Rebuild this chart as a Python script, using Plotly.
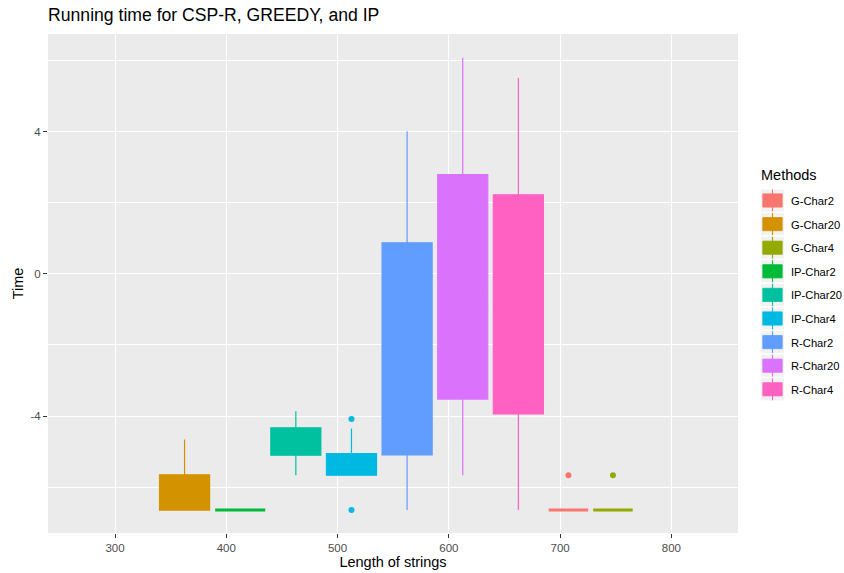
import plotly.graph_objects as go

# ---- data ----
methods = ["G-Char2", "G-Char20", "G-Char4", "IP-Char2", "IP-Char20",
           "IP-Char4", "R-Char2", "R-Char20", "R-Char4"]
lengths = [707.5, 362.5, 747.5, 412.5, 462.5, 512.5, 562.5, 612.5, 662.5]
lower_whisker = [-6.64, -6.64, -6.64, -6.64, -5.66, -5.66, -6.64, -5.66, -6.64]
q1_vals = [-6.64, -6.64, -6.64, -6.64, -5.10, -5.66, -5.09, -3.52, -3.94]
median_vals = [-6.64, -6.30, -6.64, -6.64, -4.70, -5.35, -2.00, -0.50, -1.00]
q3_vals = [-6.64, -5.65, -6.64, -6.64, -4.33, -5.05, 0.87, 2.79, 2.22]
upper_whisker = [-6.64, -4.66, -6.64, -6.64, -3.86, -4.35, 4.01, 6.07, 5.50]
outliers = {
    "G-Char2": [-5.66],
    "G-Char4": [-5.66],
    "IP-Char4": [-4.08, -6.64],
}
x_ticks = [300, 400, 500, 600, 700, 800]
y_ticks = [-4, 0, 4]
y_tick_labels = ["-4", "0", "4"]

# ---- styles ----
colors = ["#F8766D", "#D39200", "#93AA00", "#00BA38", "#00C19F",
          "#00B9E3", "#619CFF", "#DB72FB", "#FF61C3"]
narrow = {"G-Char2", "G-Char4"}
flat = {"G-Char2", "G-Char4", "IP-Char2"}
FONT = "Liberation Sans, Arial, Helvetica, sans-serif"

W, H = 844, 573
ML, MR, MT, MB = 48, 106, 34, 40
PW, PH = W - ML - MR, H - MT - MB


def px_x(px):
    return (px - ML) / PW


def px_y(py):
    return (H - MB - py) / PH


fig = go.Figure()
for i, m in enumerate(methods):
    c = colors[i]
    fig.add_trace(go.Box(
        x=[lengths[i]], q1=[q1_vals[i]], median=[median_vals[i]], q3=[q3_vals[i]],
        lowerfence=[lower_whisker[i]], upperfence=[upper_whisker[i]],
        name=m, width=35.5 if m in narrow else 45,
        line=dict(color=c, width=3 if m in flat else 1.2),
        fillcolor=c, marker=dict(color=c), whiskerwidth=0,
        boxpoints=False, hoverinfo="skip", showlegend=False,
    ))
    if m in outliers:
        fig.add_trace(go.Scatter(
            x=[lengths[i]] * len(outliers[m]), y=outliers[m], mode="markers",
            marker=dict(color=c, size=6), showlegend=False, hoverinfo="skip",
        ))

# ---- ggplot-style legend (keys drawn as shapes, labels as text) ----
fig.add_annotation(text="Methods", xref="paper", yref="paper", x=px_x(759.5),
                   y=px_y(175), xanchor="left", yanchor="middle", showarrow=False,
                   borderpad=0, font=dict(size=14.5, color="black", family=FONT))
ITEM0, STEP = 200.5, 23.6
for k, m in enumerate(methods):
    c = colors[k]
    cy = ITEM0 + STEP * k
    fig.add_shape(type="rect", xref="paper", yref="paper",
                  x0=px_x(761), x1=px_x(784), y0=px_y(cy - 11), y1=px_y(cy + 11),
                  fillcolor="#F2F2F2", line=dict(width=0), layer="above")
    fig.add_shape(type="line", xref="paper", yref="paper",
                  x0=px_x(772.5), x1=px_x(772.5), y0=px_y(cy - 11), y1=px_y(cy + 11),
                  line=dict(color=c, width=1.1), layer="above")
    fig.add_shape(type="rect", xref="paper", yref="paper",
                  x0=px_x(762.8), x1=px_x(782.2), y0=px_y(cy - 6.6), y1=px_y(cy + 6.6),
                  fillcolor=c, line=dict(color=c, width=0.8), layer="above")
    fig.add_annotation(text=m, xref="paper", yref="paper", x=px_x(790),
                       y=px_y(cy + 0.5), xanchor="left", yanchor="middle",
                       showarrow=False, borderpad=0,
                       font=dict(size=11.2, color="black", family=FONT))

fig.update_layout(
    width=W, height=H,
    margin=dict(l=ML, r=MR, t=MT, b=MB, autoexpand=False),
    paper_bgcolor="white", plot_bgcolor="#EBEBEB",
    boxmode="overlay", showlegend=False,
    font=dict(family=FONT, size=11, color="#4D4D4D"),
    title=dict(text="Running time for CSP-R, GREEDY, and IP", x=0.057, xanchor="left",
               y=0.974, yanchor="middle", xref="container",
               font=dict(size=17.6, color="black", family=FONT)),
    xaxis=dict(range=[239.75, 859.9], tickvals=x_ticks, showgrid=True,
               gridcolor="white", gridwidth=1.1, zeroline=False, automargin=False,
               ticks="outside", ticklen=4, tickcolor="#333333", tickwidth=1,
               tickfont=dict(size=11.5, color="#4D4D4D"),
               title=dict(text="Length of strings", standoff=4,
                          font=dict(size=14.5, color="black"))),
    yaxis=dict(range=[-7.285, 6.74], tickvals=y_ticks, ticktext=y_tick_labels,
               showgrid=True, automargin=False,
               gridcolor="white", gridwidth=1.1, zeroline=False,
               ticks="outside", ticklen=4, tickcolor="#333333", tickwidth=1,
               tickfont=dict(size=11.5, color="#4D4D4D"),
               minor=dict(tickvals=[-6, -2, 2, 6], showgrid=True,
                          gridcolor="white", gridwidth=0.55, ticks=""),
               title=dict(text="Time", standoff=3,
                          font=dict(size=14.5, color="black"))),
)

fig.write_html("out.html", config={"displayModeBar": False},
               post_script="document.body.style.margin='0';")
